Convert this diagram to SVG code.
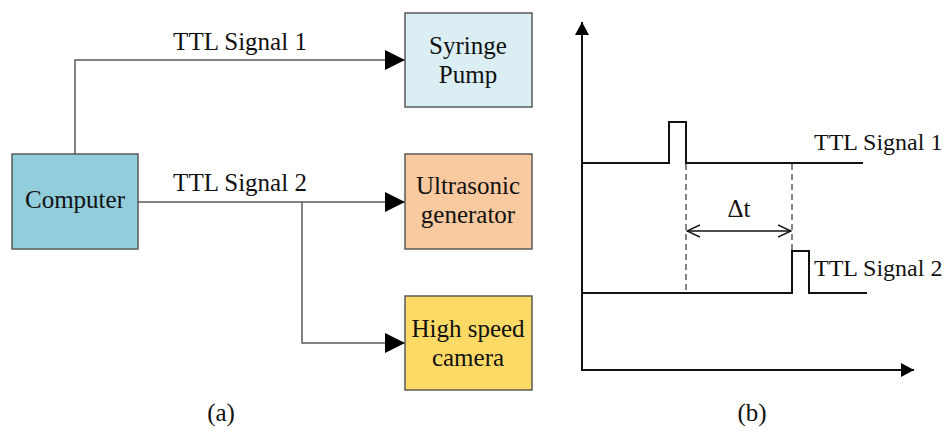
<svg xmlns="http://www.w3.org/2000/svg" width="946" height="433" viewBox="0 0 946 433">
<style>
.t{font-family:'Liberation Serif','Times New Roman',Times,serif;font-size:25px;fill:#111}
.s{font-size:24px}
.c{text-anchor:middle}
.box{stroke:#5a5a5a;stroke-width:1.5}
.conn{fill:none;stroke:#5a5a5a;stroke-width:1.5}
.sig{fill:none;stroke:#111;stroke-width:2}
.dash{fill:none;stroke:#444;stroke-width:1.3;stroke-dasharray:6,4}
</style>
<defs>
<marker id="arr" markerWidth="20" markerHeight="20" refX="20" refY="10" orient="auto" markerUnits="userSpaceOnUse">
<path d="M0,0 L20,10 L0,20 Z" fill="#000"/>
</marker>
<marker id="ax" markerWidth="14" markerHeight="14" refX="13" refY="7" orient="auto" markerUnits="userSpaceOnUse">
<path d="M0,0 L13,7 L0,14 Z" fill="#000"/>
</marker>
<marker id="open" markerWidth="14" markerHeight="14" refX="13" refY="7" orient="auto-start-reverse" markerUnits="userSpaceOnUse">
<path d="M0,1 L13,7 L0,13" fill="none" stroke="#111" stroke-width="1.5"/>
</marker>
</defs>
<rect width="946" height="433" fill="#fff"/>

<g id="connectors">
<path class="conn" d="M75,154 V60 H405" marker-end="url(#arr)"/>
<path class="conn" d="M138,202 H405" marker-end="url(#arr)"/>
<path class="conn" d="M302,202 V343 H405" marker-end="url(#arr)"/>
</g>
<g id="labels-a" class="t">
<text class="c" x="240" y="50">TTL Signal 1</text>
<text class="c" x="240" y="191">TTL Signal 2</text>
</g>

<g id="computer" class="t">
<rect class="box" x="12" y="154" width="126" height="95" fill="#92cddc"/>
<text class="c" x="75" y="208">Computer</text>
</g>
<g id="syringe-pump" class="t">
<rect class="box" x="405" y="13" width="127" height="94" fill="#dbeef4"/>
<text class="c" x="468" y="54">Syringe</text>
<text class="c" x="468" y="83">Pump</text>
</g>
<g id="ultrasonic-generator" class="t">
<rect class="box" x="405" y="154" width="127" height="95" fill="#f9c9a0"/>
<text class="c" x="468" y="194">Ultrasonic</text>
<text class="c" x="468" y="223">generator</text>
</g>
<g id="high-speed-camera" class="t">
<rect class="box" x="405" y="296" width="127" height="94" fill="#fdd966"/>
<text class="c" x="468" y="337">High speed</text>
<text class="c" x="468" y="366">camera</text>
</g>
<text class="t c" x="221" y="421">(a)</text>

<g id="timing">
<path class="sig" d="M582,371 V22" marker-end="url(#ax)"/>
<path class="sig" d="M581,370 H914" marker-end="url(#ax)"/>
<path class="sig" d="M582,163 H669 V122 H686 V163 H863"/>
<path class="sig" d="M582,293 H792 V251 H809 V293 H867"/>
<path class="dash" d="M686,164 V293"/>
<path class="dash" d="M792,164 V251"/>
<path fill="none" stroke="#111" stroke-width="1.5" d="M687,231 H791" marker-start="url(#open)" marker-end="url(#open)"/>
<text class="t c" x="739" y="217">Δt</text>
<text class="t s" x="814" y="150">TTL Signal 1</text>
<text class="t s" x="814" y="276">TTL Signal 2</text>
<text class="t c" x="752" y="421">(b)</text>
</g>
</svg>
